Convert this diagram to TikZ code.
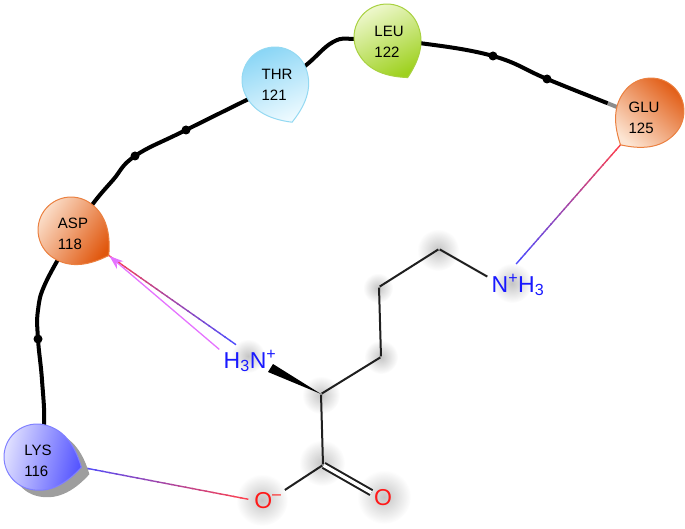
\documentclass[tikz,border=0pt]{standalone}
\usepackage{fontspec}
\setmainfont{Liberation Sans}
\usepackage{tikz}
\usetikzlibrary{calc,fadings,arrows.meta}
\pgfdeclarelayer{edgelayer}
\pgfdeclarelayer{nodelayer}
\pgfsetlayers{edgelayer,nodelayer,main}
\definecolor{aspdark}{rgb}{0.88,0.34,0.05}
\definecolor{asplight}{rgb}{0.99,0.90,0.83}
\definecolor{aspedge}{rgb}{0.92,0.50,0.25}
\definecolor{lysdark}{rgb}{0.33,0.33,1}
\definecolor{lyslight}{rgb}{0.90,0.90,1}
\definecolor{lysedge}{rgb}{0.50,0.50,1}
\definecolor{thrdark}{rgb}{0.52,0.83,0.96}
\definecolor{thrlight}{rgb}{0.93,0.98,1}
\definecolor{thredge}{rgb}{0.58,0.85,0.95}
\definecolor{leudark}{rgb}{0.62,0.82,0.12}
\definecolor{leulight}{rgb}{0.95,0.98,0.84}
\definecolor{leuedge}{rgb}{0.66,0.82,0.25}
\definecolor{contactred}{rgb}{1,0.25,0.30}
\definecolor{contactblue}{rgb}{0.30,0.30,1}
\definecolor{contactpink}{rgb}{0.90,0.45,1}
\tikzfading[name=halofade,inner color=transparent!62,outer color=transparent!100]
\tikzstyle{none}=[inner sep=0pt]
\tikzstyle{halo}=[fill=black!60,path fading=halofade]
\tikzstyle{backbone}=[line width=4,black,line cap=round]
\tikzstyle{joint}=[circle,fill=black,inner sep=0pt,minimum size=9]
\tikzstyle{bond}=[line width=2,black!88]
\tikzstyle{label}=[inner sep=0pt,align=left,font=\fontsize{15}{21}\selectfont,text=black]
\tikzstyle{atomN}=[inner sep=0pt,font=\fontsize{23}{23}\selectfont,text=blue!90!white]
\tikzstyle{atomO}=[inner sep=3pt,font=\fontsize{23}{23}\selectfont,text=red!90!white]
\tikzstyle{inarrow}=[-{Stealth[length=14pt,width=10pt]},contactpink,line width=1.3]
\newcommand{\dropoutline}{(1.38,0) .. controls (1.1,0.5) and (0.68,1.0) .. (0,1) .. controls (-0.55,1) and (-1,0.55) .. (-1,0) .. controls (-1,-0.55) and (-0.55,-1) .. (0,-1) .. controls (0.68,-1) and (1.1,-0.5) .. (1.38,0) -- cycle}
% name, centre, tip direction, tail colour, tip colour, edge colour
\newcommand{\residue}[6]{
	\pgfmathsetmacro{\dropangle}{#3-90}
	\begin{scope}[shift={(#2)},rotate=#3,scale=33]
		\shadedraw [draw=#6,line width=1,bottom color=#4,top color=#5,shading angle=\dropangle] \dropoutline;
		\node [style=none] (#1tip) at (1.38,0) {};
	\end{scope}
}
% gradient line between two nodes
\newcommand{\contact}[4]{
	\foreach \i [evaluate=\i as \ta using (\i-1)/24, evaluate=\i as \tb using (\i+0.2)/24, evaluate=\i as \mixed using 100*(\i-0.5)/24] in {1,...,24} {
		\draw [line width=1.4,color=#4!\mixed!#3] ($(#1)!\ta!(#2)$) -- ($(#1)!\tb!(#2)$);
	}
}

\begin{document}
\begin{tikzpicture}[x=1pt,y=-1pt]
	\useasboundingbox (0,0) rectangle (685,529);
	\begin{pgfonlayer}{nodelayer}
		\begin{scope}[shift={(45,464)},rotate=-13,scale=33]
			\fill [black!38] \dropoutline;
		\end{scope}
		\residue{lys}{37,457}{-13}{lyslight}{lysdark}{lysedge}
		\residue{asp}{71,230}{-34}{asplight}{aspdark}{aspedge}
		\residue{thr}{275,80}{-68}{thrdark}{thrlight}{thredge}
		\residue{leu}{387,37}{-63}{leulight}{leudark}{leuedge}
		\residue{glu}{651,111}{-132}{aspdark}{asplight}{aspedge}
		\node [style=label] (LYS) at (38,461) {LYS\\116};
		\node [style=label] (ASP) at (73,234) {ASP\\118};
		\node [style=label] (THR) at (277,85) {THR\\121};
		\node [style=label] (LEU) at (389,42) {LEU\\122};
		\node [style=label] (GLU) at (644,118) {GLU\\125};
		\node [style=atomN] (NA) at (250,361) {H\textsubscript{3}N\textsuperscript{+}};
		\node [style=atomN] (NZ) at (518,285) {N\textsuperscript{+}H\textsubscript{3}};
		\node [style=atomO] (OM) at (268,501) {O\textsuperscript{--}};
		\node [style=atomO,inner sep=0pt] (OD) at (383,498) {O};
		\node [style=joint] (j1) at (38,339) {};
		\node [style=joint] (j2) at (135,156) {};
		\node [style=joint] (j3) at (186,130) {};
		\node [style=joint] (j4) at (493,56) {};
		\node [style=joint] (j5) at (547,79) {};
	\end{pgfonlayer}
	\node [style=none] (CA) at (321,394) {};
	\node [style=none] (CB) at (381,357) {};
	\node [style=none] (CG) at (379,287) {};
	\node [style=none] (CD) at (439,249) {};
	\node [style=none] (CE) at (488,277) {};
	\node [style=none] (CO) at (323,465) {};
	\node [style=none] (OB) at (372,493) {};
	\node [style=none] (WL) at (273,364) {};
	\node [style=none] (WR) at (268,372) {};
	\node [style=none] (NAb) at (235,344) {};
	\node [style=none] (NAp) at (220,350) {};
	\node [style=none] (NZb) at (517,263) {};
	\node [style=none] (OMb) at (247,499) {};
	\node [style=none] (fade) at (607,103) {};
	\begin{pgfonlayer}{edgelayer}
		\fill [style=halo] (438,250) circle (21);
		\fill [style=halo] (378,288) circle (15);
		\fill [style=halo] (381,357) circle (17);
		\fill [style=halo] (321,395) circle (19);
		\fill [style=halo] (322,463) circle (23);
		\fill [style=halo] (262,500) circle (26);
		\fill [style=halo] (384,497) circle (27);
		\fill [style=halo] (248,356) circle (17);
		\fill [style=halo] (512,283) circle (20);
		\draw [style=backbone] plot [smooth,tension=.7] coordinates {(LYS) (44,425) (42,380) (j1) (38,310) (46,282) (ASP)};
		\draw [style=backbone] plot [smooth,tension=.7] coordinates {(ASP) (92,205) (113,180) (j2) (j3) (THR)};
		\draw [style=backbone] plot [smooth,tension=.7] coordinates {(THR) (305,66) (333,42) (355,39) (LEU)};
		\draw [style=backbone] plot [smooth,tension=.7] coordinates {(LEU) (419,43) (j4) (j5) (fade)};
		\draw [line width=4,black!45] (fade) -- (GLU);
		\draw [style=bond] (CA) -- (CB) -- (CG) -- (CD) -- (CE);
		\draw [style=bond] (CA) -- (CO) -- (OM);
		\draw [style=bond,double,double distance=3.4] (CO) -- (OB);
		\fill [black] (CA.center) -- (WL.center) -- (WR.center) -- cycle;
		\contact{lystip}{OMb}{contactblue}{contactred}
		\contact{asptip}{NAb}{contactred}{contactblue}
		\contact{glutip}{NZb}{contactred}{contactblue}
		\draw [style=inarrow] (NAp) -- (asptip);
	\end{pgfonlayer}
\end{tikzpicture}
\end{document}
